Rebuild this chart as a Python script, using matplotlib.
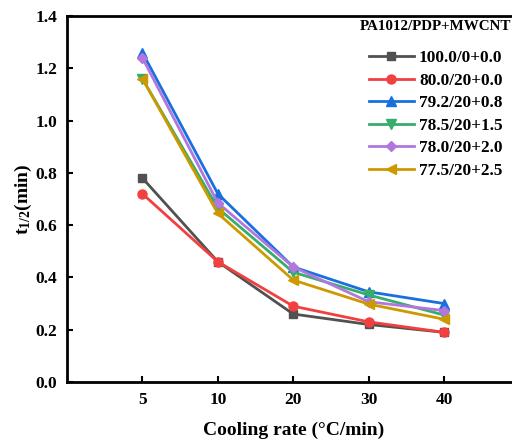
import matplotlib
matplotlib.use('Agg')
import matplotlib.pyplot as plt
import numpy as np

plt.rcParams['font.family'] = 'Liberation Serif'
plt.rcParams['font.weight'] = 'bold'
plt.rcParams['mathtext.fontset'] = 'custom'
plt.rcParams['mathtext.rm'] = 'Liberation Serif:bold'
plt.rcParams['mathtext.it'] = 'Liberation Serif:bold'

# cooling rates (categorical axis)
rates = ['5', '10', '20', '30', '40']

labels = ['100.0/0+0.0', '80.0/20+0.0', '79.2/20+0.8',
          '78.5/20+1.5', '78.0/20+2.0', '77.5/20+2.5']

t_half_0 = [0.78, 0.46, 0.26, 0.22, 0.19]
t_half_1 = [0.72, 0.46, 0.29, 0.23, 0.19]
t_half_2 = [1.26, 0.72, 0.44, 0.345, 0.30]
t_half_3 = [1.16, 0.665, 0.42, 0.333, 0.256]
t_half_4 = [1.24, 0.685, 0.44, 0.307, 0.273]
t_half_5 = [1.16, 0.645, 0.39, 0.298, 0.24]

series = [t_half_0, t_half_1, t_half_2, t_half_3, t_half_4, t_half_5]
colors = ['#515151', '#F14040', '#1A6FDF', '#37AD6B', '#B177DE', '#CC9900']
markers = ['s', 'o', '^', 'v', 'D', '<']
msizes = [6, 6.5, 6.5, 6.5, 5.5, 6.5]

fig = plt.figure(figsize=(5.12, 4.46), dpi=100)
ax = fig.add_axes([67/512, 64/446, 452.5/512, 366/446])

x = np.arange(1, len(rates) + 1)
for y, c, m, ms, lab in zip(series, colors, markers, msizes, labels):
    ax.plot(x, y, color=c, marker=m, markersize=ms, linewidth=2, label=lab)

ax.set_xlim(0, 6)
ax.set_ylim(0, 1.4)
ax.set_xticks(x)
ax.set_xticklabels(rates)
ax.set_yticks(np.arange(0, 1.41, 0.2))
ax.yaxis.set_major_formatter(matplotlib.ticker.FormatStrFormatter('%.1f'))
ax.tick_params(direction='in', length=4, width=1.5, labelsize=12.5, pad=7)
for s in ax.spines.values():
    s.set_linewidth(2)

ax.set_xlabel('Cooling rate (°C/min)', fontsize=14, fontweight='bold', labelpad=10)
ax.set_ylabel('t$_{1/2}$(min)', fontsize=14, fontweight='bold', labelpad=1)

fig.text(360/512, 1 - 27/446, 'PA1012/PDP+MWCNT', fontsize=10.8,
         fontweight='bold', va='center', ha='left')
leg = ax.legend(loc='upper left', bbox_to_anchor=(369/512, 1 - 50/446),
                bbox_transform=fig.transFigure, frameon=False,
                fontsize=12.4, handlelength=2.6, handletextpad=0.3,
                labelspacing=0.38, borderaxespad=0, borderpad=0)

fig.savefig('out.png', dpi=100)
